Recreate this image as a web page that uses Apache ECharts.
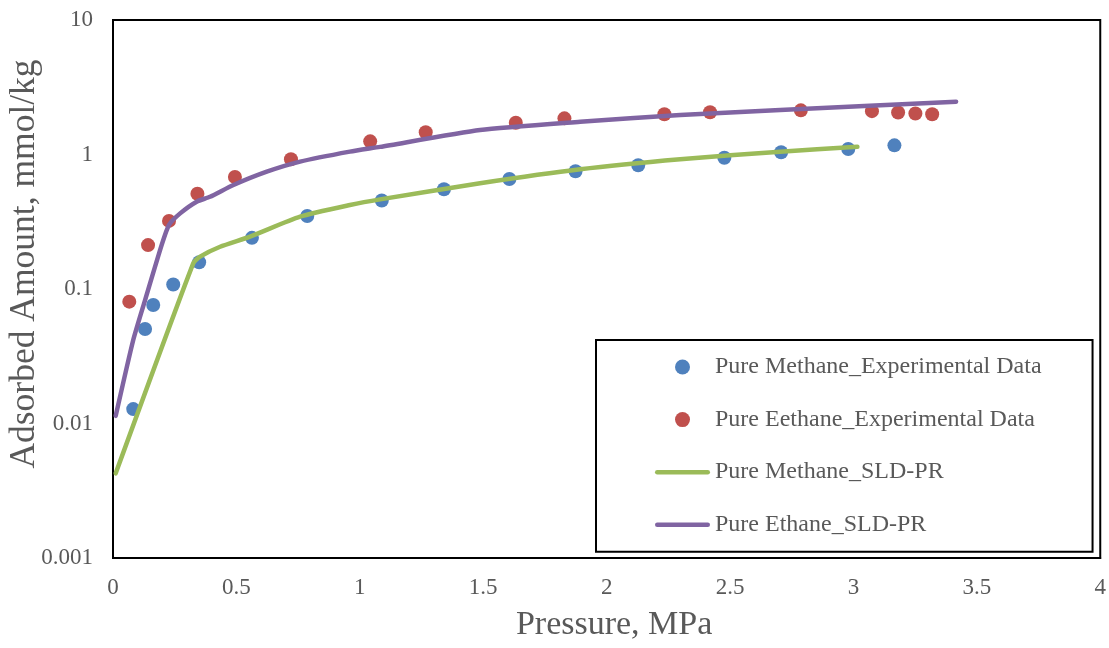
<!DOCTYPE html>
<html>
<head>
<meta charset="utf-8">
<title>Adsorption isotherms</title>
<script src="https://cdn.jsdelivr.net/npm/echarts@6/dist/echarts.min.js"></script>
<style>
  html, body { margin: 0; padding: 0; background: #ffffff; }
  #chart { width: 1109px; height: 648px; }
</style>
</head>
<body>
<div id="chart"></div>
<script>
// Experimental adsorption data (pressure in MPa, amount in mmol/kg)
const methanePressure = [0.082, 0.130, 0.163, 0.244, 0.349, 0.563, 0.787, 1.089, 1.341, 1.606, 1.874, 2.128, 2.477, 2.707, 2.979, 3.166];
const methaneAmount   = [0.0128, 0.0504, 0.076, 0.108, 0.158, 0.240, 0.349, 0.455, 0.551, 0.657, 0.750, 0.831, 0.946, 1.04, 1.10, 1.17];

const ethanePressure = [0.066, 0.142, 0.227, 0.342, 0.494, 0.721, 1.042, 1.267, 1.632, 1.829, 2.234, 2.419, 2.787, 3.075, 3.181, 3.251, 3.319];
const ethaneAmount   = [0.0805, 0.212, 0.321, 0.511, 0.681, 0.921, 1.253, 1.462, 1.723, 1.857, 1.99, 2.06, 2.13, 2.10, 2.05, 2.02, 1.99];

// SLD-PR model curves
const methaneModelPressure = [0.011, 0.325, 0.353, 0.434, 0.555, 0.758, 0.960, 1.082, 1.487, 1.893, 2.298, 2.703, 3.016];
const methaneModelAmount   = [0.00426, 0.155, 0.174, 0.206, 0.245, 0.345, 0.421, 0.464, 0.611, 0.776, 0.921, 1.05, 1.14];

const ethaneModelPressure = [0.011, 0.082, 0.130, 0.197, 0.227, 0.272, 0.339, 0.393, 0.488, 0.623, 0.758, 0.960, 1.082, 1.487, 1.893, 2.298, 2.703, 3.416];
const ethaneModelAmount   = [0.0114, 0.0418, 0.0828, 0.212, 0.300, 0.365, 0.446, 0.485, 0.593, 0.745, 0.885, 1.05, 1.14, 1.52, 1.75, 1.97, 2.14, 2.47];

const seriesNames = [
  'Pure Methane_Experimental Data',
  'Pure Eethane_Experimental Data',
  'Pure Methane_SLD-PR',
  'Pure Ethane_SLD-PR'
];

const xTitle = 'Pressure, MPa';
const yTitle = 'Adsorbed Amount, mmol/kg';

const pairs = (xs, ys) => xs.map((x, i) => [x, ys[i]]);

const FONT = "'Liberation Serif', 'Times New Roman', serif";
const TEXT = '#595959';
const COLORS = ['#4F81BD', '#C0504D', '#9BBB59', '#8064A2'];

// thick rounded stroke used as the legend key of the model curves
const LINE_ICON = 'path://M2.25,0 L52.75,0 A2.25,2.25 0 0 1 52.75,4.5 L2.25,4.5 A2.25,2.25 0 0 1 2.25,0 Z';

const chart = echarts.init(document.getElementById('chart'), null, { renderer: 'canvas' });

chart.setOption({
  backgroundColor: '#ffffff',
  animation: false,
  grid: {
    left: 113, top: 20, right: 8, bottom: 90,
    show: true, borderColor: '#000000', borderWidth: 2, backgroundColor: 'transparent'
  },
  xAxis: {
    type: 'value',
    min: 0, max: 4, interval: 0.5,
    name: xTitle,
    nameLocation: 'middle',
    nameGap: 50,
    nameTextStyle: { fontFamily: FONT, fontSize: 34, color: TEXT, padding: [0, 0, 0, 15] },
    axisLine: { show: true, onZero: false, lineStyle: { color: '#000000', width: 2 } },
    axisTick: { show: false },
    splitLine: { show: false },
    axisLabel: { fontFamily: FONT, fontSize: 23, color: TEXT, margin: 18 }
  },
  yAxis: {
    type: 'log',
    logBase: 10,
    min: 0.001, max: 10,
    axisLine: { show: true, lineStyle: { color: '#000000', width: 2 } },
    axisTick: { show: false },
    splitLine: { show: false },
    axisLabel: {
      fontFamily: FONT, fontSize: 23, color: TEXT, margin: 20,
      formatter: v => String(Number(v.toPrecision(3)))
    }
  },
  legend: {
    orient: 'vertical',
    left: 596, top: 340,
    padding: [15, 51, 15, 59],
    itemGap: 28.6,
    itemWidth: 55,
    itemHeight: 15,
    symbolKeepAspect: true,
    borderColor: '#000000',
    borderWidth: 2,
    backgroundColor: '#ffffff',
    textStyle: { fontFamily: FONT, fontSize: 24, color: TEXT, lineHeight: 24 },
    data: [
      { name: seriesNames[0], icon: 'circle', itemStyle: { color: COLORS[0], opacity: 1 } },
      { name: seriesNames[1], icon: 'circle', itemStyle: { color: COLORS[1], opacity: 1 } },
      { name: seriesNames[2], icon: LINE_ICON, itemStyle: { color: COLORS[2], opacity: 1 } },
      { name: seriesNames[3], icon: LINE_ICON, itemStyle: { color: COLORS[3], opacity: 1 } }
    ]
  },
  graphic: [{
    type: 'text',
    x: 25, y: 264,
    rotation: Math.PI / 2,
    style: {
      text: yTitle,
      font: '35.5px ' + FONT,
      fill: TEXT,
      textAlign: 'center',
      textVerticalAlign: 'middle'
    }
  }],
  series: [
    {
      name: seriesNames[0], type: 'scatter',
      symbol: 'circle', symbolSize: 14,
      itemStyle: { color: COLORS[0], opacity: 1 },
      data: pairs(methanePressure, methaneAmount)
    },
    {
      name: seriesNames[1], type: 'scatter',
      symbol: 'circle', symbolSize: 14,
      itemStyle: { color: COLORS[1], opacity: 1 },
      data: pairs(ethanePressure, ethaneAmount)
    },
    {
      name: seriesNames[2], type: 'line',
      symbol: 'none', smooth: 0.2,
      lineStyle: { color: COLORS[2], width: 4.5, cap: 'round', join: 'round' },
      itemStyle: { color: COLORS[2] },
      data: pairs(methaneModelPressure, methaneModelAmount)
    },
    {
      name: seriesNames[3], type: 'line',
      symbol: 'none', smooth: 0.2,
      lineStyle: { color: COLORS[3], width: 4.5, cap: 'round', join: 'round' },
      itemStyle: { color: COLORS[3] },
      data: pairs(ethaneModelPressure, ethaneModelAmount)
    }
  ]
});
</script>
</body>
</html>
